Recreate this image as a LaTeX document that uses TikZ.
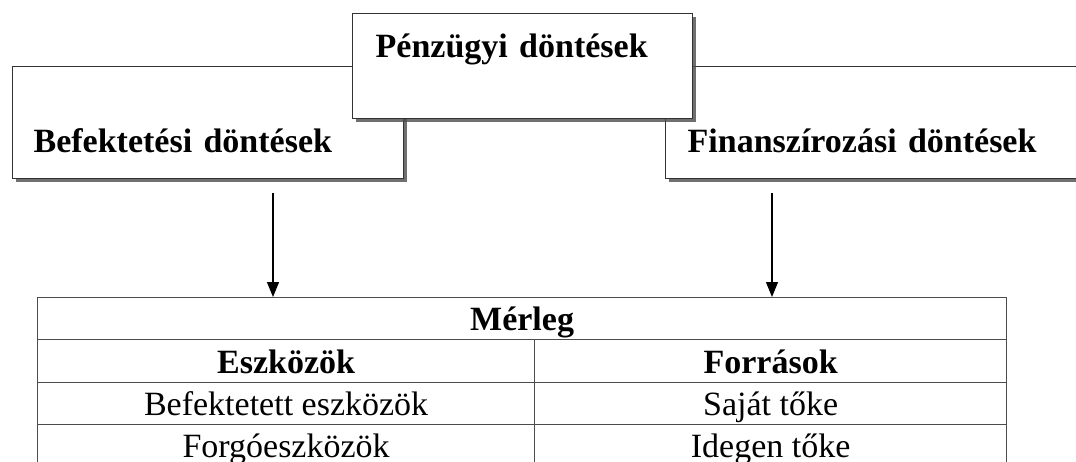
\documentclass[tikz,border=0pt]{standalone}
\usepackage{fontspec}
\setmainfont{Liberation Serif}
\usetikzlibrary{arrows.meta,shadows,positioning}

\begin{document}
\begin{tikzpicture}[x=1pt,y=-1pt]

\tikzset{
  dontes/.style={draw=black!80, line width=1.3pt, fill=white, inner sep=0pt,
    align=left, font=\fontsize{34}{40}\selectfont\bfseries,
    drop shadow={shadow xshift=3pt, shadow yshift=-3pt, fill=black!70, opacity=0.8}},
  cella/.style={draw=black!70, line width=1.2pt, inner sep=0pt, text depth=9pt,
    font=\fontsize{34}{40}\selectfont},
  fej/.style={cella, font=\fontsize{34}{40}\selectfont\bfseries},
  nyil/.style={line width=1.2pt, -{Triangle[length=15pt,width=12pt]}}
}

\clip (0,0) rectangle (1076,461);

% dontesek
\node[dontes, anchor=north west, inner xsep=21pt, text width=349pt,
  text height=86pt, text depth=26pt] (befekt) at (12,66) {Befektetési döntések};
\node[dontes, anchor=north west, inner xsep=22pt, text width=420pt,
  text height=86pt, text depth=26pt] (finansz) at (665,66) {Finanszírozási döntések};
\node[dontes, anchor=north west, inner xsep=23pt, text width=294pt,
  text height=44pt, text depth=61pt] (penzugy) at (352,13) {Pénzügyi döntések};

% merleg
\node[fej, anchor=north west, minimum width=969pt, text height=33pt] (merleg) at (37,297) {Mérleg};
\node[fej, anchor=north west, minimum width=497pt, text height=33.5pt] (eszk) at (37,339) {Eszközök};
\node[fej, anchor=north west, minimum width=472pt, text height=33.5pt] (forr) at (534,339) {Források};
\node[cella, anchor=north west, minimum width=497pt, text height=33.5pt] (befeszk) at (37,381.5) {Befektetett eszközök};
\node[cella, anchor=north west, minimum width=472pt, text height=33.5pt] (sajat) at (534,381.5) {Saját tőke};
\node[cella, anchor=north west, minimum width=497pt, text height=33pt] (forgo) at (37,424) {Forgóeszközök};
\node[cella, anchor=north west, minimum width=472pt, text height=33pt] (idegen) at (534,424) {Idegen tőke};

% nyilak
\coordinate (bal) at (273,193);
\coordinate (jobb) at (772,193);
\draw[nyil] (bal) -- (bal |- merleg.north);
\draw[nyil] (jobb) -- (jobb |- merleg.north);

\end{tikzpicture}
\end{document}
